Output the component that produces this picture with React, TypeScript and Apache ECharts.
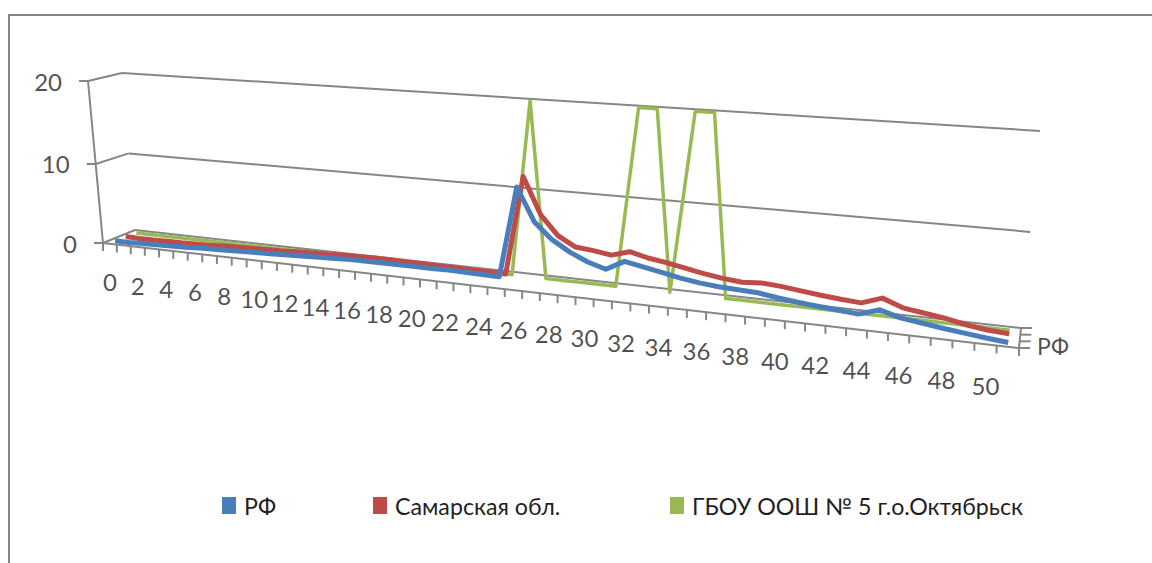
import React, { useEffect, useRef } from "react";
import * as echarts from "echarts";

const categories = Array.from({ length: 52 }, (_, i) => String(i));
const valueTicks = [0, 10, 20];
const seriesNames = ["РФ", "Самарская обл.", "ГБОУ ООШ № 5 г.о.Октябрьск"];

const rf = [
  0.1, 0.1, 0.15, 0.2, 0.25, 0.3, 0.4, 0.45, 0.5, 0.6, 0.65, 0.7, 0.8, 0.85, 0.95, 1.0, 1.1, 1.1, 1.1, 1.1, 1.1, 1.1, 1.15, 1.1, 1.05, 1.0,
  11.4, 7.7, 5.9, 4.7, 3.8, 3.2, 4.3, 3.9, 3.5, 3.1, 2.8, 2.6, 2.5, 2.4, 2.1, 1.85, 1.65, 1.5, 1.3, 2.0, 1.4, 1.1, 0.8, 0.55, 0.3, 0.1,
];
const samara = [
  0.1, 0.05, 0.05, 0.1, 0.1, 0.15, 0.2, 0.3, 0.35, 0.4, 0.45, 0.5, 0.6, 0.65, 0.7, 0.8, 0.85, 0.9, 0.9, 0.85, 0.85, 0.8, 0.8, 0.75, 0.75, 0.7,
  12.1, 8.0, 5.8, 4.7, 4.5, 4.2, 4.8, 4.3, 4.0, 3.6, 3.2, 2.9, 2.7, 2.85, 2.7, 2.45, 2.2, 2.0, 1.85, 2.6, 1.8, 1.5, 1.2, 0.75, 0.45, 0.3,
];
const school = [
  0, 0, 0, 0, 0, 0, 0, 0, 0, 0, 0, 0, 0, 0, 0, 0, 0, 0, 0, 0, 0, 0, 0, 0, 0, 0,
  20, 0, 0, 0, 0, 0, 20, 20, 0, 20, 20, 0, 0, 0, 0, 0, 0, 0, 0, 0, 0, 0, 0, 0, 0, 0,
];

const BLUE = "#4A7EBB";
const RED = "#BE4B48";
const GREEN = "#98B954";
const GRAY = "#868686";
const TEXT = "#1f1f1f";
const FONT = "Lato";

const warp = (s: number) => s / (s + 1.28 * (1 - s));
const lerp = (a: number, b: number, t: number) => a + (b - a) * t;
const project = (s: number, d: number, v: number): [number, number] => {
  const f = warp(s);
  const bx = lerp(103 + 916 * f, 135 + 886 * f, d);
  const by = lerp(243 + 105 * f, 230 + 98 * f, d);
  const hx = lerp(lerp(-15, -13, d), lerp(19, 19, d), f);
  const hy = lerp(lerp(-162, -157, d), lerp(-204, -197, d), f);
  const t = v / 20;
  const g = t / (t + 1.05 * (1 - t));
  return [bx + hx * g, by + hy * g];
};
const catPos = (i: number) => (i + 0.5) / categories.length;
const edge = (i: number) => i / categories.length;

const seg = (a: [number, number], b: [number, number]) => [a[0], a[1], b[0], b[1]];

const segments: number[][] = [];
// value axis, ticks and walls
segments.push(seg(project(0, 0, 0), project(0, 0, 20)));
valueTicks.forEach((v) => {
  const p = project(0, 0, v);
  segments.push(seg([p[0] - 9, p[1]], p));
  segments.push(seg(p, project(0, 1, v)));
  segments.push(seg(project(0, 1, v), project(1, 1, v)));
});
// floor front edge and category ticks
segments.push(seg(project(0, 0, 0), project(1, 0, 0)));
categories.concat("end").forEach((_, i) => {
  const p = project(edge(i), 0, 0);
  segments.push(seg(p, [p[0], p[1] + 8]));
});
// series axis
segments.push(seg(project(1, 0, 0), project(1, 1, 0)));
[0, 1, 2, 3].forEach((k) => {
  const p = project(1, k / 3, 0);
  segments.push(seg(p, [p[0] + 11, p[1]]));
});

const xLabels = categories
  .map((c, i) => ({ c, i }))
  .filter((o) => o.i % 2 === 0)
  .map((o) => {
    const p = project(catPos(o.i), 0, 0);
    return { name: o.c, value: [p[0], p[1] + 38 + 3 * warp(catPos(o.i))] };
  });
const yLabels = valueTicks.map((v) => {
  const p = project(0, 0, v);
  return { name: String(v), value: [p[0] - 26, p[1]] };
});
const depthLabel = [{ name: "РФ", value: [project(1, 0, 0)[0] + 34, project(1, 0, 0)[1] - 2] }];

const lineData = (vals: number[], d: number) => vals.map((v, i) => project(catPos(i), d, v));

const lineSeries = (name: string, vals: number[], d: number, color: string, width: number) => ({
  type: "line",
  name,
  data: lineData(vals, d),
  symbol: "none",
  silent: true,
  lineStyle: { color, width, join: "round" },
  itemStyle: { color },
});

const labelSeries = (data: any[], size: number, position: string) => ({
  type: "scatter",
  data,
  symbolSize: 0,
  silent: true,
  label: {
    show: true,
    position,
    distance: 0,
    formatter: (p: any) => p.name,
    color: TEXT,
    fontFamily: FONT,
    fontSize: size,
  },
});

const legendAt = (name: string, left: number) => ({
  left,
  top: 489,
  itemWidth: 14,
  itemHeight: 17,
  selectedMode: false,
  data: [{ name, icon: "rect" }],
  textStyle: { fontFamily: FONT, fontSize: 23.2, color: TEXT, padding: [0, 0, 0, 3] },
});

export default function App() {
  const ref = useRef<HTMLDivElement>(null);
  useEffect(() => {
    const chart = echarts.init(ref.current!, undefined, { renderer: "svg" });
    chart.setOption({
      animation: false,
      backgroundColor: "#ffffff",
      grid: { left: 0, top: 0, width: 1152, height: 563 },
      xAxis: { type: "value", min: 0, max: 1152, show: false },
      yAxis: { type: "value", min: 0, max: 563, inverse: true, show: false },
      graphic: [
        {
          type: "rect",
          shape: { x: 9, y: 15, width: 1200, height: 600 },
          style: { fill: "none", stroke: GRAY, lineWidth: 2 },
          silent: true,
        },
      ],
      legend: [
        legendAt(seriesNames[0], 217),
        legendAt(seriesNames[1], 368),
        legendAt(seriesNames[2], 665),
      ],
      series: [
        {
          type: "custom",
          data: segments,
          silent: true,
          renderItem: (_: any, api: any) => {
            const a = api.coord([api.value(0), api.value(1)]);
            const b = api.coord([api.value(2), api.value(3)]);
            return {
              type: "line",
              shape: { x1: a[0], y1: a[1], x2: b[0], y2: b[1] },
              style: { stroke: GRAY, lineWidth: 2 },
            };
          },
        },
        lineSeries(seriesNames[2], school, 5 / 6, GREEN, 3.5),
        lineSeries(seriesNames[1], samara, 1 / 2, RED, 5),
        lineSeries(seriesNames[0], rf, 1 / 6, BLUE, 5),
        labelSeries(xLabels, 24, "inside"),
        labelSeries(yLabels, 24, "left"),
        labelSeries(depthLabel, 23, "inside"),
      ],
    });
    return () => chart.dispose();
  }, []);
  return <div ref={ref} style={{ position: "fixed", left: 0, top: 0, width: 1152, height: 563 }} />;
}
